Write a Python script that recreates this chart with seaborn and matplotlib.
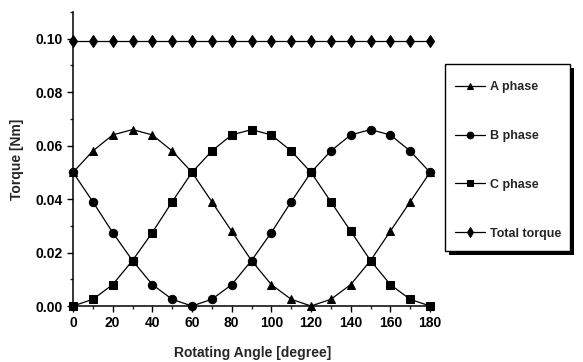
import numpy as np
import pandas as pd
import matplotlib
matplotlib.use("Agg")
import matplotlib.pyplot as plt
from matplotlib.patches import Rectangle
from matplotlib.ticker import MultipleLocator, FormatStrFormatter
import seaborn as sns

angles = [0, 10, 20, 30, 40, 50, 60, 70, 80, 90, 100, 110, 120, 130, 140, 150, 160, 170, 180]
a_phase = [0.050, 0.058, 0.064, 0.066, 0.064, 0.058, 0.050, 0.039, 0.028, 0.017, 0.008, 0.0025,
           0.000, 0.0025, 0.008, 0.017, 0.028, 0.039, 0.050]
b_phase = [0.050, 0.039, 0.0275, 0.017, 0.008, 0.0025, 0.000, 0.0025, 0.008, 0.017, 0.0275, 0.039,
           0.050, 0.058, 0.064, 0.066, 0.064, 0.058, 0.050]
c_phase = [0.000, 0.0025, 0.008, 0.017, 0.0275, 0.039, 0.050, 0.058, 0.064, 0.066, 0.064, 0.058,
           0.050, 0.039, 0.028, 0.017, 0.008, 0.0025, 0.000]
total = [0.099] * 19
series_names = ["A phase", "B phase", "C phase", "Total torque"]

df = pd.concat([
    pd.DataFrame({"angle": angles, "torque": vals, "series": name})
    for name, vals in zip(series_names, [a_phase, b_phase, c_phase, total])
])

sns.set_style("ticks")
plt.rcParams["font.family"] = ["Liberation Sans", "DejaVu Sans"]

W, H = 583, 362
fig = plt.figure(figsize=(W / 100, H / 100), dpi=100)
ax = fig.add_axes([73 / W, 1 - 306 / H, (432 - 73) / W, (306 - 12) / H])

markers = {"A phase": "^", "B phase": "o", "C phase": "s", "Total torque": "d"}
sns.lineplot(data=df, x="angle", y="torque", hue="series", style="series",
             markers=markers, dashes=False, palette=["black"] * 4,
             markersize=6, linewidth=0.9, markeredgecolor="black", ax=ax,
             legend=True, clip_on=False)

ax.set_xlim(0, 181)
ax.set_ylim(0, 0.11)
ax.xaxis.set_major_locator(MultipleLocator(20))
ax.xaxis.set_minor_locator(MultipleLocator(10))
ax.yaxis.set_minor_locator(MultipleLocator(0.01))
ax.set_yticks([0, 0.02, 0.04, 0.06, 0.08, 0.10])
ax.yaxis.set_major_formatter(FormatStrFormatter("%.2f"))
ax.tick_params(which="major", direction="out", length=4, width=1, labelsize=10, colors="black")
ax.tick_params(which="minor", direction="out", length=2.5, width=1)
for lab in ax.get_xticklabels() + ax.get_yticklabels():
    lab.set_fontweight("bold")
sns.despine(ax=ax)
for sp in ["left", "bottom"]:
    ax.spines[sp].set_linewidth(1.1)
    ax.spines[sp].set_color("black")

ax.set_xlabel("Rotating Angle [degree]", fontsize=10, fontweight="bold", labelpad=11)
ax.set_ylabel("Torque [Nm]", fontsize=10, fontweight="bold", labelpad=8)

# legend frame with drop shadow
bx0, bx1, by0, by1 = 445, 570, 64, 251
fig.patches.append(Rectangle((((bx0 + 4) / W), 1 - (by1 + 4) / H), (bx1 - bx0) / W, (by1 - by0) / H,
                             transform=fig.transFigure, facecolor="black", edgecolor="black",
                             linewidth=0, zorder=1))
fig.patches.append(Rectangle((bx0 / W, 1 - by1 / H), (bx1 - bx0) / W, (by1 - by0) / H,
                             transform=fig.transFigure, facecolor="white", edgecolor="black",
                             linewidth=1.0, zorder=2))

handles, labels = ax.get_legend_handles_labels()
ax.get_legend().remove()
leg = fig.legend(handles, labels, loc="upper left", bbox_to_anchor=(442.5 / W, 1 - 68.5 / H),
                 frameon=False, fontsize=9, labelspacing=2.95, borderpad=1.0, handlelength=2.4,
                 handletextpad=0.4, markerscale=0.8, borderaxespad=0)
leg.set_zorder(5)
for t in leg.get_texts():
    t.set_fontweight("bold")

fig.savefig("out.png", dpi=100)
